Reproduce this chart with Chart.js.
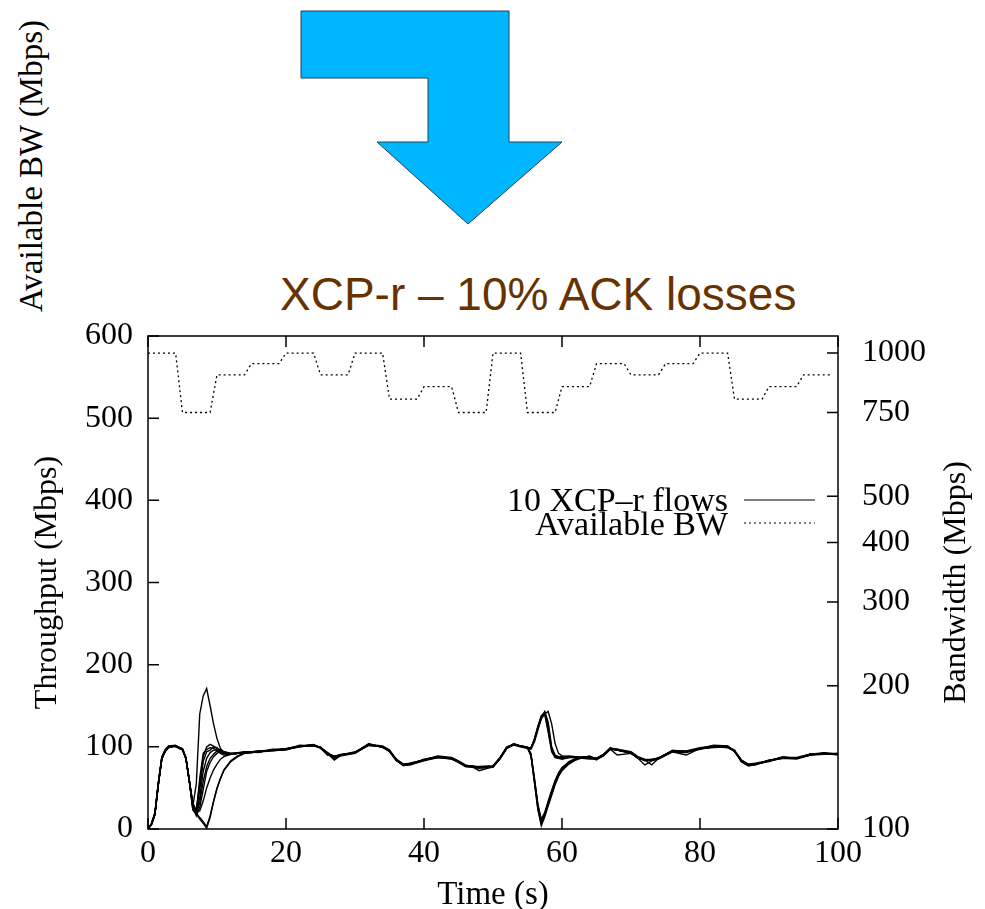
<!DOCTYPE html>
<html lang="en">
<head>
<meta charset="UTF-8">
<title>XCP-r - 10% ACK losses</title>
<script src="https://cdn.jsdelivr.net/npm/chart.js"></script>
<style>
  body { margin: 0; background: #fff; }
  .slide { position: relative; width: 985px; height: 909px; overflow: hidden; }
  #chart { position: absolute; left: 0; top: 0; }
  .arrow { position: absolute; left: 0; top: 0; }
  .titulo { position: absolute; left: 280px; top: 271px; margin: 0; font: 46px/46px "Liberation Sans", Arial, sans-serif; color: #663300; white-space: nowrap; font-weight: normal; }
  .bwLabel { position: absolute; left: 31px; top: 166px; font: 33px/33px "Liberation Serif", "Times New Roman", serif; color: #000; white-space: nowrap; transform: translate(-50%, -50%) rotate(-90deg); }
</style>
</head>
<body>
<div class="slide">
  <svg class="arrow" width="985" height="240">
    <polygon points="301,11 509,11 509,142 562,142 468,224 377,142 428,142 428,78 301,78" fill="#00b7ff" stroke="#23405a" stroke-width="1"/>
  </svg>
  <div class="bwLabel">Available BW (Mbps)</div>
  <h1 class="titulo">XCP-r – 10% ACK losses</h1>
  <canvas id="chart" width="985" height="909"></canvas>
</div>

<script>
// sample times (s) shared by the 10 flows
const time = [0, 0.5, 1, 1.5, 2, 2.5, 3, 4, 5, 5.5, 6, 6.5,
  7, 7.5, 8, 8.5, 9, 9.5, 10, 10.5, 11, 12, 13,
  14, 16, 18, 20, 22, 24, 25, 26, 27, 28, 30, 32, 34, 35, 36, 37, 38, 40, 42, 44, 45, 46, 47, 48, 50, 51, 52, 53, 54, 55,
  55.5, 56, 56.5, 57, 57.5, 58, 58.5, 59, 59.5, 60, 61, 62, 63, 64, 65,
  66, 67, 68, 70, 71, 72, 73, 74, 76, 78, 80, 82, 84, 85, 86, 87, 88, 90, 92, 94, 96, 98, 100];

// throughput of each XCP-r flow (Mbps)
const flow1 = [0, 6, 19, 56, 87, 96, 101, 102, 97, 85, 57, 28,
  55, 140, 162, 171, 150, 128, 110, 98, 93, 91, 92,
  93, 95, 96, 98, 101, 102, 98, 91, 87, 90, 94, 103, 101, 96, 85, 79, 80, 84, 89, 87, 83, 78, 76, 76, 77, 87, 100, 103, 101, 99,
  99, 108, 122, 134, 140, 143, 128, 104, 92, 89, 88, 87, 87, 86, 86,
  91, 98, 97, 94, 88, 85, 84, 87, 95, 95, 99, 101, 100, 96, 84, 79, 80, 83, 88, 86, 91, 93, 91];
const flow2 = [0, 5, 17, 54, 85, 95, 100, 101, 98, 87, 59, 26,
  20, 62, 92, 97, 99, 98, 96, 92, 90, 91, 92,
  92, 94, 95, 97, 100, 103, 99, 93, 86, 89, 92, 102, 100, 94, 83, 78, 78, 83, 87, 85, 81, 76, 75, 74, 75, 85, 98, 102, 100, 98,
  98, 110, 125, 138, 142, 120, 96, 88, 86, 87, 88, 88, 87, 86, 85,
  89, 97, 90, 92, 86, 78, 83, 85, 94, 93, 97, 100, 99, 95, 82, 77, 78, 84, 86, 85, 90, 91, 92];
const flow3 = [0, 7, 20, 57, 88, 97, 101, 100, 96, 86, 58, 30,
  22, 48, 82, 94, 96, 100, 99, 95, 92, 92, 93,
  94, 93, 97, 97, 102, 101, 100, 92, 88, 91, 93, 104, 99, 95, 84, 77, 79, 85, 88, 86, 82, 77, 77, 75, 76, 86, 99, 104, 101, 100,
  97, 106, 120, 135, 141, 125, 98, 89, 87, 86, 87, 87, 86, 87, 86,
  90, 99, 96, 93, 87, 84, 78, 86, 96, 94, 98, 102, 101, 94, 83, 78, 79, 82, 87, 87, 91, 92, 90];
const flow4 = [0, 6, 18, 55, 86, 94, 99, 101, 97, 86, 57, 32,
  19, 32, 58, 76, 86, 91, 95, 97, 94, 92, 92,
  93, 94, 96, 96, 101, 102, 99, 92, 88, 90, 93, 103, 100, 95, 84, 79, 79, 84, 88, 86, 82, 77, 76, 75, 76, 86, 99, 103, 101, 99,
  90, 60, 28, 9, 18, 31, 44, 56, 66, 73, 80, 85, 87, 88, 86,
  90, 98, 96, 93, 87, 84, 84, 86, 95, 94, 98, 100, 100, 95, 83, 78, 79, 83, 87, 86, 91, 92, 91];
const flow5 = [0, 6, 18, 54, 86, 95, 100, 101, 97, 86, 58, 27,
  16, 26, 48, 70, 81, 88, 92, 95, 94, 92, 93,
  92, 94, 96, 97, 100, 102, 99, 90, 89, 90, 93, 102, 100, 96, 83, 78, 78, 84, 87, 86, 81, 77, 75, 75, 76, 85, 98, 103, 100, 99,
  89, 58, 25, 6, 16, 30, 42, 55, 65, 72, 80, 85, 87, 87, 85,
  89, 97, 96, 92, 87, 83, 84, 86, 94, 90, 98, 99, 100, 95, 82, 77, 78, 83, 86, 86, 90, 92, 91];
const flow6 = [0, 6, 18, 55, 86, 95, 100, 101, 97, 86, 58, 24,
  19, 14, 9, 3, 16, 34, 50, 62, 71, 82, 88,
  92, 94, 96, 97, 101, 102, 99, 92, 84, 90, 93, 103, 100, 95, 84, 78, 80, 84, 88, 86, 82, 76, 76, 71, 76, 86, 99, 103, 101, 99,
  91, 62, 30, 12, 20, 33, 46, 58, 68, 75, 81, 86, 88, 88, 84,
  90, 98, 96, 93, 86, 84, 85, 86, 95, 94, 98, 100, 99, 95, 84, 78, 79, 83, 87, 86, 91, 92, 91];
const flow7 = [0, 6, 18, 55, 86, 95, 100, 101, 97, 86, 58, 23,
  18, 12, 7, 1, 14, 33, 49, 61, 72, 83, 89,
  93, 94, 96, 97, 101, 102, 99, 92, 88, 90, 93, 103, 100, 95, 84, 79, 79, 84, 88, 86, 82, 77, 76, 75, 76, 86, 99, 103, 101, 99,
  90, 57, 24, 4, 15, 28, 41, 54, 64, 71, 79, 84, 87, 89, 85,
  90, 98, 96, 93, 87, 84, 84, 86, 95, 94, 98, 100, 100, 95, 83, 79, 79, 83, 87, 86, 91, 92, 91];
const flow8 = [0, 6, 18, 55, 86, 95, 100, 101, 97, 86, 58, 26,
  21, 22, 34, 50, 62, 72, 79, 85, 88, 91, 92,
  93, 94, 96, 97, 101, 101, 99, 92, 88, 90, 93, 103, 100, 95, 84, 78, 79, 84, 88, 85, 82, 77, 76, 75, 76, 86, 99, 103, 101, 99,
  92, 61, 29, 10, 19, 34, 47, 59, 68, 74, 82, 86, 86, 87, 86,
  90, 98, 97, 93, 87, 84, 84, 86, 95, 94, 98, 100, 100, 95, 83, 78, 79, 83, 87, 86, 91, 92, 92];
const flow9 = [0, 6, 18, 55, 86, 95, 100, 101, 97, 86, 58, 29,
  20, 38, 70, 86, 93, 96, 96, 93, 92, 91, 92,
  93, 95, 96, 97, 101, 102, 99, 93, 88, 90, 93, 102, 100, 95, 84, 78, 79, 84, 88, 86, 82, 77, 76, 75, 76, 86, 99, 103, 101, 99,
  98, 109, 124, 137, 139, 118, 94, 87, 86, 85, 87, 88, 86, 85, 86,
  91, 98, 96, 92, 87, 84, 84, 86, 95, 94, 98, 100, 101, 95, 83, 78, 79, 83, 87, 86, 90, 92, 91];
const flow10 = [0, 6, 18, 55, 86, 95, 100, 101, 97, 86, 58, 31,
  23, 55, 88, 100, 103, 101, 98, 95, 92, 91, 92,
  94, 94, 96, 97, 101, 102, 99, 92, 88, 90, 93, 103, 100, 95, 84, 78, 79, 84, 88, 86, 82, 77, 76, 75, 76, 86, 99, 103, 101, 99,
  99, 108, 123, 136, 143, 130, 100, 90, 88, 88, 89, 88, 87, 86, 85,
  90, 98, 96, 93, 87, 84, 84, 86, 95, 94, 98, 100, 100, 95, 83, 78, 79, 83, 87, 86, 91, 92, 91];

// available bandwidth (right axis, log scale)
const bwTime = [0, 4, 5, 9, 10, 14, 15, 19, 20, 24, 25, 29, 30, 34, 35, 39, 40, 44, 45, 49,
  50, 54, 55, 59, 60, 64, 65, 69, 70, 74, 75, 79, 80, 84, 85, 89, 90, 94, 95, 99];
const bwValue = [1000, 1000, 750, 750, 900, 900, 950, 950, 1000, 1000, 900, 900, 1000, 1000, 800, 800, 850, 850, 750, 750,
  1000, 1000, 750, 750, 850, 850, 950, 950, 900, 900, 950, 950, 1000, 1000, 800, 800, 850, 850, 900, 900];

const bwTicks = [100, 200, 300, 400, 500, 750, 1000];
const legendLabels = ['10 XCP\u2013r flows', 'Available BW'];

const serif = '"Liberation Serif", "Times New Roman", serif';
const flows = [flow1, flow2, flow3, flow4, flow5, flow6, flow7, flow8, flow9, flow10];

const datasets = flows.map(function (f, n) {
  return {
    label: 'flow ' + (n + 1),
    data: time.map(function (t, i) { return { x: t, y: f[i] }; }),
    yAxisID: 'y',
    borderColor: '#000',
    borderWidth: 1.4,
    pointRadius: 0,
    tension: 0
  };
});
datasets.push({
  label: 'Available BW',
  data: bwTime.map(function (t, i) { return { x: t, y: bwValue[i] }; }),
  yAxisID: 'y2',
  borderColor: '#000',
  borderWidth: 1.3,
  borderDash: [2, 3],
  pointRadius: 0,
  tension: 0
});

// gnuplot-like frame, inward ticks, legend and right axis title
const gnuplotFrame = {
  id: 'gnuplotFrame',
  afterDraw: function (chart) {
    const ctx = chart.ctx;
    const a = chart.chartArea;
    const sx = chart.scales.x, sy = chart.scales.y, sy2 = chart.scales.y2;
    const len = 11;
    ctx.save();
    ctx.strokeStyle = '#000';
    ctx.lineWidth = 1.5;
    ctx.strokeRect(a.left, a.top, a.right - a.left, a.bottom - a.top);
    ctx.beginPath();
    sx.ticks.forEach(function (t) {
      const px = sx.getPixelForValue(t.value);
      ctx.moveTo(px, a.bottom); ctx.lineTo(px, a.bottom - len);
      ctx.moveTo(px, a.top); ctx.lineTo(px, a.top + len);
    });
    sy.ticks.forEach(function (t) {
      const py = sy.getPixelForValue(t.value);
      ctx.moveTo(a.left, py); ctx.lineTo(a.left + len, py);
    });
    sy2.ticks.forEach(function (t) {
      const py = sy2.getPixelForValue(t.value);
      ctx.moveTo(a.right, py); ctx.lineTo(a.right - len, py);
    });
    ctx.stroke();

    // legend
    ctx.font = '34px ' + serif;
    ctx.fillStyle = '#000';
    ctx.textAlign = 'right';
    ctx.textBaseline = 'alphabetic';
    const lx1 = a.right - 94, lx2 = a.right - 23;
    ctx.fillText(legendLabels[0], lx1 - 16, a.top + 175);
    ctx.fillText(legendLabels[1], lx1 - 16, a.top + 199);
    ctx.lineWidth = 1.2;
    ctx.beginPath();
    ctx.moveTo(lx1, a.top + 164); ctx.lineTo(lx2, a.top + 164);
    ctx.stroke();
    ctx.setLineDash([2, 3]);
    ctx.beginPath();
    ctx.moveTo(lx1, a.top + 187); ctx.lineTo(lx2, a.top + 187);
    ctx.stroke();
    ctx.setLineDash([]);

    // right axis title, read bottom to top
    ctx.translate(957, (a.top + a.bottom) / 2);
    ctx.rotate(-Math.PI / 2);
    ctx.textAlign = 'center';
    ctx.textBaseline = 'middle';
    ctx.font = '32px ' + serif;
    ctx.fillText('Bandwidth (Mbps)', 0, 0);
    ctx.restore();
  }
};

const tickFont = { family: serif, size: 32 };

new Chart(document.getElementById('chart').getContext('2d'), {
  type: 'line',
  data: { datasets: datasets },
  options: {
    responsive: false,
    animation: false,
    layout: { padding: { top: 336, left: 0, right: 0, bottom: 0 } },
    plugins: { legend: { display: false }, tooltip: { enabled: false } },
    scales: {
      x: {
        type: 'linear', min: 0, max: 100,
        grid: { display: false, drawTicks: false },
        border: { display: false },
        ticks: { stepSize: 20, font: tickFont, color: '#000', padding: 5, maxRotation: 0 },
        title: { display: true, text: 'Time (s)', color: '#000', font: { family: serif, size: 33, lineHeight: 0.8 }, padding: 0 },
        afterFit: function (s) { s.height = 80; }
      },
      y: {
        position: 'left', min: 0, max: 600,
        grid: { display: false, drawTicks: false },
        border: { display: false },
        ticks: { stepSize: 100, font: tickFont, color: '#000', padding: 15 },
        title: { display: true, text: 'Throughput (Mbps)', color: '#000', font: { family: serif, size: 32, lineHeight: 1 }, padding: { top: 32, bottom: 0 } },
        afterFit: function (s) { s.width = 148; }
      },
      y2: {
        type: 'logarithmic', position: 'right', min: 100, max: 1086,
        grid: { display: false, drawTicks: false },
        border: { display: false },
        ticks: { font: tickFont, color: '#000', padding: 24, autoSkip: false,
          callback: function (v) { return String(v); } },
        afterBuildTicks: function (s) { s.ticks = bwTicks.map(function (v) { return { value: v }; }); },
        afterFit: function (s) { s.width = 147; }
      }
    }
  },
  plugins: [gnuplotFrame]
});
</script>
</body>
</html>
